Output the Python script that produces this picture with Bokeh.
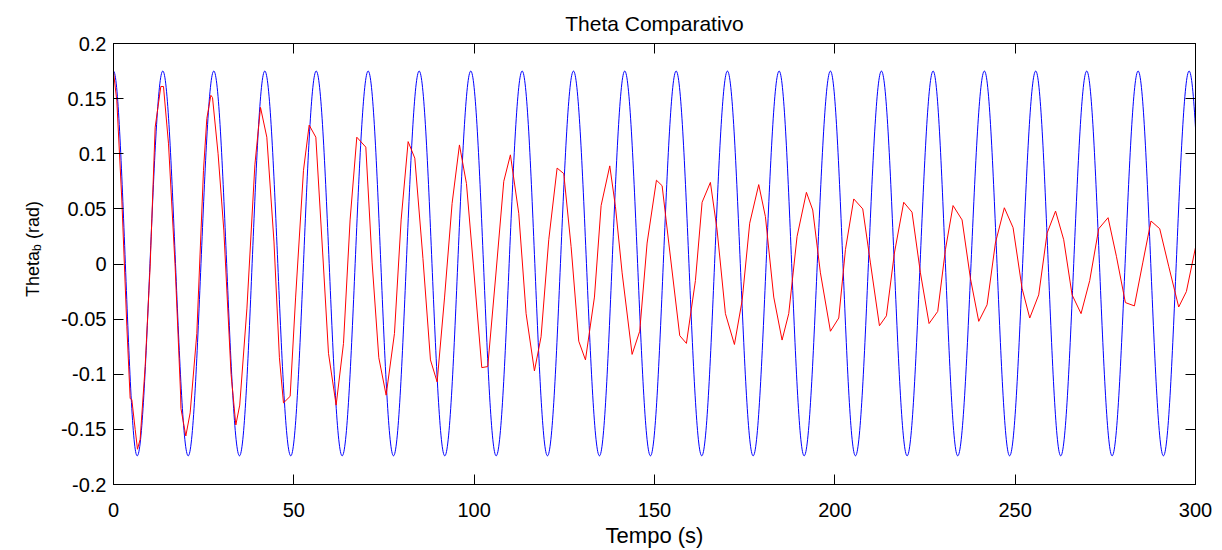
import numpy as np
from bokeh.plotting import figure
from bokeh.layouts import row
from bokeh.models import LinearAxis, FixedTicker, Range1d, ColumnDataSource
from bokeh.core.properties import value
from bokeh.embed import file_html
from bokeh.resources import INLINE

# ---------------- data ----------------
x_ticks = [0, 50, 100, 150, 200, 250, 300]
y_ticks = [-0.2, -0.15, -0.1, -0.05, 0.0, 0.05, 0.1, 0.15, 0.2]
y_tick_labels = ["-0.2", "-0.15", "-0.1", "-0.05", "0", "0.05", "0.1", "0.15", "0.2"]

# blue curve: times of its crests and troughs (s) and their values (rad)
blue_peak_t = [0.0, 13.67, 27.81, 41.95, 56.20, 70.61, 84.75, 99.06, 113.31, 127.53,
               141.75, 156.00, 170.22, 184.56, 198.78, 212.92, 227.25, 241.47,
               255.70, 269.84, 284.09, 298.23]
blue_trough_t = [6.57, 20.71, 34.93, 49.15, 63.40, 77.63, 91.85, 106.10, 120.32,
                 134.74, 148.88, 163.10, 177.35, 191.49, 205.71, 220.04, 234.07,
                 248.46, 262.63, 276.88, 291.10, 305.30]
blue_peak_v = 0.175
blue_trough_v = -0.174

# red curve: sampled points (s, rad)
red_t = [0.0, 0.92, 2.31, 3.70, 4.62, 5.08, 6.01, 6.65, 7.39, 8.78, 10.16, 11.55,
         13.12, 13.86, 15.25, 17.09, 18.6, 18.7, 20.05, 21.25, 23.10, 24.95, 25.88,
         26.99, 27.45, 29.0, 30.6, 32.6, 33.92, 35.0, 37.0, 39.2, 40.76, 42.51,
         44.5, 46.0, 47.13, 48.98, 50.5, 52.68, 54.25, 56.10, 58.0, 59.61, 61.73,
         63.77, 65.6, 67.46, 69.96, 71.71, 73.56, 75.59, 77.90, 79.75, 81.69,
         83.54, 85.8, 87.88, 89.73, 91.8, 93.88, 95.92, 97.86, 100.0, 102.11,
         103.77, 106.0, 108.21, 110.05, 112.36, 114.40, 116.71, 118.55, 120.68,
         123.0, 124.84, 126.87, 129.0, 130.86, 133.35, 135.2, 137.6, 139.17,
         141.02, 143.79, 145.9, 147.95, 150.54, 152.11, 153.96, 157.0, 158.85,
         161.35, 163.2, 165.5, 167.35, 169.66, 172.16, 174.3, 176.4, 178.9,
         180.75, 183.06, 185.37, 187.22, 189.53, 192.12, 193.87, 196.0, 198.78,
         201.09, 202.94, 205.25, 207.74, 209.87, 212.37, 214.3, 216.52, 219.1,
         221.4, 223.73, 226.13, 228.53, 230.66, 232.78, 235.28, 237.59, 239.9,
         242.21, 244.52, 247.0, 249.42, 251.91, 254.04, 256.53, 258.85, 261.2,
         263.46, 265.78, 268.27, 270.67, 273.17, 275.76, 278.07, 280.56, 283.06,
         285.37, 287.67, 290.08, 292.57, 295.34, 297.47, 300.0]
red_v = [0.174, 0.148, 0.058, -0.057, -0.122, -0.123, -0.150, -0.168, -0.159, -0.093,
         -0.002, 0.124, 0.161, 0.161, 0.109, -0.002, -0.118, -0.131, -0.156, -0.135,
         -0.063, 0.085, 0.132, 0.153, 0.151, 0.100, 0.030, -0.100, -0.146, -0.128,
         -0.040, 0.090, 0.142, 0.115, 0.020, -0.085, -0.126, -0.120, -0.030, 0.085,
         0.126, 0.115, 0.010, -0.081, -0.128, -0.072, 0.040, 0.115, 0.106, 0.001,
         -0.085, -0.119, -0.063, 0.040, 0.111, 0.096, 0.005, -0.087, -0.107, -0.030,
         0.055, 0.108, 0.073, -0.010, -0.094, -0.093, -0.010, 0.075, 0.099, 0.046,
         -0.045, -0.097, -0.066, 0.022, 0.087, 0.082, 0.016, -0.070, -0.087, -0.030,
         0.053, 0.089, 0.052, -0.008, -0.082, -0.061, 0.019, 0.076, 0.071, 0.019,
         -0.065, -0.072, -0.015, 0.056, 0.074, 0.031, -0.045, -0.073, -0.033, 0.037,
         0.072, 0.043, -0.030, -0.069, -0.045, 0.025, 0.065, 0.049, -0.008, -0.061,
         -0.049, 0.013, 0.059, 0.050, 0.001, -0.056, -0.047, 0.010, 0.056, 0.047,
         -0.008, -0.054, -0.043, 0.013, 0.053, 0.040, -0.013, -0.052, -0.037, 0.019,
         0.051, 0.033, -0.022, -0.049, -0.028, 0.028, 0.048, 0.022, -0.028, -0.045,
         -0.015, 0.032, 0.042, 0.007, -0.035, -0.038, 0.001, 0.039, 0.032, -0.002,
         -0.039, -0.025, 0.015]

# y-axis title pieces: "Theta" + subscript "b" + " (rad)"
ylabel_parts = ["Theta", "b", "(rad)"]

# ---------------- blue curve as smooth half-waves between extrema ----------------
ext = sorted([(t, blue_peak_v) for t in blue_peak_t] + [(t, blue_trough_v) for t in blue_trough_t])
k = 1.0 - 2.0 / np.pi
seg = dict(x0=[], y0=[], x1=[], y1=[], cx0=[], cy0=[], cx1=[], cy1=[])
for (ta, va), (tb, vb) in zip(ext[:-1], ext[1:]):
    d = tb - ta
    seg["x0"].append(ta); seg["y0"].append(va)
    seg["x1"].append(tb); seg["y1"].append(vb)
    seg["cx0"].append(ta + k * d); seg["cy0"].append(va)
    seg["cx1"].append(tb - k * d); seg["cy1"].append(vb)
blue_src = ColumnDataSource(seg)
red_src = ColumnDataSource(dict(t=red_t, v=red_v))

FONT = "Liberation Sans"
W, H = 1222, 550
LW = 48
FRAME_TOP, FRAME_BOTTOM = 43, 485

p = figure(width=W - LW, height=H, x_range=Range1d(0, 300), y_range=Range1d(-0.2, 0.2),
           output_backend="svg", toolbar_location=None,
           min_border_left=113 - LW, min_border_right=27,
           min_border_top=FRAME_TOP, min_border_bottom=H - FRAME_BOTTOM,
           title="Theta Comparativo")
p.background_fill_color = "white"
p.border_fill_color = "white"
p.outline_line_color = "black"
p.outline_line_width = 1
p.xgrid.visible = False
p.ygrid.visible = False

p.title.align = "center"
p.title.text_font = FONT
p.title.text_font_size = "21px"
p.title.text_font_style = "normal"
p.title.text_color = "black"
p.title.standoff = 18

p.bezier(x0="x0", y0="y0", x1="x1", y1="y1", cx0="cx0", cy0="cy0", cx1="cx1", cy1="cy1",
         source=blue_src, line_color="#0000ff", line_width=1)
p.line("t", "v", source=red_src, line_color="#ff0000", line_width=1)

overrides = {v: s for v, s in zip(y_ticks, y_tick_labels)}

def style_axis(ax, labels=True):
    ax.major_tick_in = 10
    ax.major_tick_out = 0
    ax.minor_tick_line_color = None
    ax.axis_line_color = "black"
    ax.major_tick_line_color = "black"
    if labels:
        ax.major_label_text_font = FONT
        ax.major_label_text_font_size = "20px"
        ax.major_label_text_color = "black"
    else:
        ax.major_label_text_font_size = "0px"
        ax.major_label_standoff = 0

p.xaxis.ticker = FixedTicker(ticks=x_ticks)
p.yaxis.ticker = FixedTicker(ticks=y_ticks)
p.yaxis.major_label_overrides = overrides
style_axis(p.xaxis[0])
style_axis(p.yaxis[0])
p.xaxis.major_label_standoff = 18
p.yaxis.major_label_standoff = 7
p.xaxis.axis_label = "Tempo (s)"
p.xaxis.axis_label_text_font = FONT
p.xaxis.axis_label_text_font_size = "22px"
p.xaxis.axis_label_text_font_style = "normal"
p.xaxis.axis_label_text_color = "black"
p.xaxis.axis_label_standoff = 3

top_ax = LinearAxis(ticker=FixedTicker(ticks=x_ticks))
style_axis(top_ax, labels=False)
p.add_layout(top_ax, "above")
right_ax = LinearAxis(ticker=FixedTicker(ticks=y_ticks))
style_axis(right_ax, labels=False)
p.add_layout(right_ax, "right")

# strip for the y-axis title; its frame is aligned with the main frame (rows FRAME_TOP..FRAME_BOTTOM),
# so its y range is expressed in page rows counted from the top
q = figure(width=LW, height=H, x_range=Range1d(0, LW), y_range=Range1d(FRAME_BOTTOM, FRAME_TOP),
           output_backend="svg", toolbar_location=None, x_axis_type=None, y_axis_type=None,
           title=None, min_border_left=0, min_border_right=0,
           min_border_top=FRAME_TOP, min_border_bottom=H - FRAME_BOTTOM)
q.outline_line_color = None
q.background_fill_color = "white"
q.border_fill_color = "white"
q.xgrid.visible = False
q.ygrid.visible = False
ang = np.pi / 2  # reads bottom to top
q.text(x=[32], y=[297], text=[ylabel_parts[0]], angle=ang, text_font=value(FONT),
       text_font_size="18px", text_color="black", text_align="left", text_baseline="alphabetic")
q.text(x=[36], y=[251], text=[ylabel_parts[1]], angle=ang, text_font=value(FONT),
       text_font_size="12px", text_color="black", text_align="left", text_baseline="alphabetic")
q.text(x=[32], y=[239], text=[ylabel_parts[2]], angle=ang, text_font=value(FONT),
       text_font_size="18px", text_color="black", text_align="left", text_baseline="alphabetic")

layout = row(q, p, spacing=0)
open("out.html", "w").write(file_html(layout, INLINE))
